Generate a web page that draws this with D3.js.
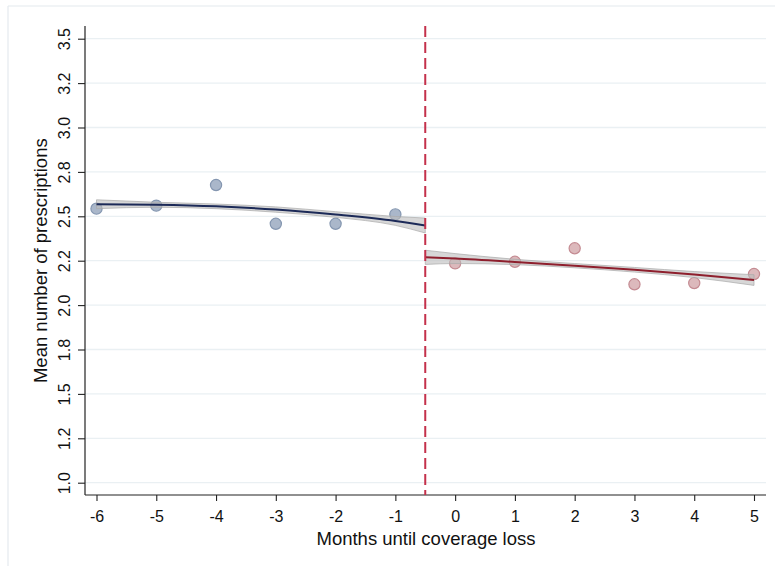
<!DOCTYPE html>
<html>
<head>
<meta charset="utf-8">
<script src="https://cdn.jsdelivr.net/npm/d3@7"></script>
<style>
  html, body { margin: 0; padding: 0; background: #fff; }
  svg { display: block; }
  text { font-family: "Liberation Sans", Arial, Helvetica, sans-serif; fill: #111; }
</style>
</head>
<body>
<svg id="chart" width="775" height="566"></svg>
<script>
// Monthly means before coverage loss (months -6 .. -1)
const monthsBefore = [-6, -5, -4, -3, -2, -1];
const meansBefore  = [2.543, 2.560, 2.676, 2.458, 2.458, 2.511];

// Monthly means after coverage loss (months 0 .. 5)
const monthsAfter = [0, 1, 2, 3, 4, 5];
const meansAfter  = [2.235, 2.244, 2.320, 2.117, 2.124, 2.175];

// Fitted curve and confidence band, pre-period
const fitXBefore   = [-6, -5, -4, -3, -2, -1, -0.5];
const fitBefore    = [2.568, 2.565, 2.556, 2.538, 2.510, 2.474, 2.448];
const fitLoBefore  = [2.543, 2.551, 2.543, 2.523, 2.494, 2.449, 2.406];
const fitHiBefore  = [2.593, 2.579, 2.569, 2.553, 2.526, 2.499, 2.490];

// Fitted line and confidence band, post-period
const fitXAfter  = [-0.5, 0, 1, 2, 3, 4, 5];
const fitAfter   = [2.269, 2.262, 2.243, 2.222, 2.199, 2.172, 2.141];
const fitLoAfter = [2.229, 2.234, 2.228, 2.210, 2.186, 2.155, 2.111];
const fitHiAfter = [2.309, 2.290, 2.258, 2.234, 2.212, 2.189, 2.171];

// Cutoff between periods
const cutoff = -0.5;

// Axis ticks
const xTicks = [-6, -5, -4, -3, -2, -1, 0, 1, 2, 3, 4, 5];
const yTicks = [1.0, 1.25, 1.5, 1.75, 2.0, 2.25, 2.5, 2.75, 3.0, 3.25, 3.5];
const yTickLabels = ["1.0", "1.2", "1.5", "1.8", "2.0", "2.2", "2.5", "2.8", "3.0", "3.2", "3.5"];

const xTitle = "Months until coverage loss";
const yTitle = "Mean number of prescriptions";

const svg = d3.select("#chart");

// Plot region
const plotLeft = 85, plotRight = 766, plotTop = 26, plotBottom = 495;

const x = d3.scaleLinear().domain([-6, 5]).range([96.5, 754]);
const y = d3.scaleLinear().domain([1, 3.5]).range([482.7, 38.7]);

// Outer frame edges
svg.append("line").attr("x1", 8).attr("x2", 8).attr("y1", 6).attr("y2", 566)
  .attr("stroke", "#e4eaee").attr("stroke-width", 1.2);
svg.append("line").attr("x1", 8).attr("x2", 775).attr("y1", 6).attr("y2", 6)
  .attr("stroke", "#e4eaee").attr("stroke-width", 1.2);

// Horizontal grid lines
svg.append("g").selectAll("line").data(yTicks).join("line")
  .attr("x1", plotLeft).attr("x2", plotRight)
  .attr("y1", d => y(d)).attr("y2", d => y(d))
  .attr("stroke", "#eaf0f3").attr("stroke-width", 1.3);

// Y axis
const yAxis = d3.axisLeft(y).tickValues(yTicks)
  .tickFormat((d, i) => yTickLabels[i]).tickSize(7).tickSizeOuter(0);
const gy = svg.append("g").attr("transform", `translate(${plotLeft},0)`).call(yAxis);
gy.select(".domain").remove();
gy.selectAll(".tick line").attr("stroke", "#222").attr("stroke-width", 1.1);
gy.selectAll(".tick text")
  .attr("x", null).attr("dy", null)
  .attr("transform", "translate(-15,0) rotate(-90)")
  .attr("text-anchor", "middle")
  .style("font-size", "16px")
  .style("font-family", "'Liberation Sans', Arial, sans-serif")
  .attr("fill", "#111");
svg.append("line").attr("x1", plotLeft).attr("x2", plotLeft)
  .attr("y1", plotTop).attr("y2", plotBottom)
  .attr("stroke", "#222").attr("stroke-width", 1.2);

// X axis
const xAxis = d3.axisBottom(x).tickValues(xTicks)
  .tickFormat(d3.format("d")).tickSize(6).tickSizeOuter(0);
const gx = svg.append("g").attr("transform", `translate(0,${plotBottom})`).call(xAxis);
gx.select(".domain").remove();
gx.selectAll(".tick line").attr("stroke", "#222").attr("stroke-width", 1.1);
gx.selectAll(".tick text")
  .attr("y", 27).attr("dy", null)
  .style("font-size", "16px")
  .style("font-family", "'Liberation Sans', Arial, sans-serif")
  .attr("fill", "#111")
  .text(d => String(d));
svg.append("line").attr("x1", plotLeft).attr("x2", plotRight)
  .attr("y1", plotBottom).attr("y2", plotBottom)
  .attr("stroke", "#222").attr("stroke-width", 1.2);

// Axis titles
svg.append("text")
  .attr("x", (plotLeft + plotRight) / 2 + 0.5).attr("y", 545)
  .attr("text-anchor", "middle").style("font-size", "18.5px")
  .text(xTitle);
svg.append("text")
  .attr("transform", `translate(47,${(y(1) + y(3.5)) / 2}) rotate(-90)`)
  .attr("text-anchor", "middle").style("font-size", "18.5px")
  .text(yTitle);

// Confidence bands
const band = d3.area().curve(d3.curveMonotoneX);
const line = d3.line().curve(d3.curveMonotoneX);

function drawFit(xs, fit, lo, hi, color) {
  const idx = d3.range(xs.length);
  svg.append("path")
    .attr("d", band.x(i => x(xs[i])).y0(i => y(lo[i])).y1(i => y(hi[i]))(idx))
    .attr("fill", "#bdbdbd").attr("fill-opacity", 0.6)
    .attr("stroke", "#a9a9a9").attr("stroke-opacity", 0.7).attr("stroke-width", 1);
  svg.append("path")
    .attr("d", line.x(i => x(xs[i])).y(i => y(fit[i]))(idx))
    .attr("fill", "none").attr("stroke", color).attr("stroke-width", 2);
}

// Scatter points
function drawPoints(xs, vs, fill, stroke) {
  svg.append("g").selectAll("circle").data(d3.range(xs.length)).join("circle")
    .attr("cx", i => x(xs[i])).attr("cy", i => y(vs[i])).attr("r", 5.6)
    .attr("fill", fill).attr("stroke", stroke).attr("stroke-width", 1.2);
}

drawPoints(monthsBefore, meansBefore, "#aab7ca", "#8496b0");
drawPoints(monthsAfter, meansAfter, "#dcb9bc", "#c48b92");

drawFit(fitXBefore, fitBefore, fitLoBefore, fitHiBefore, "#1c2a58");
drawFit(fitXAfter, fitAfter, fitLoAfter, fitHiAfter, "#8e1f2d");

// Cutoff line
svg.append("line")
  .attr("x1", x(cutoff)).attr("x2", x(cutoff))
  .attr("y1", plotTop).attr("y2", plotBottom)
  .attr("stroke", "#c4314b").attr("stroke-width", 2)
  .attr("stroke-dasharray", "11,5");
</script>
</body>
</html>
